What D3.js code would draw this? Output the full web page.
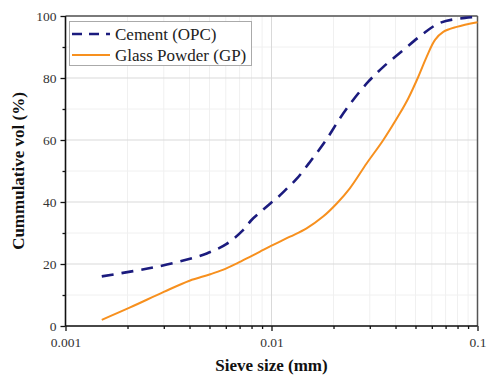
<!DOCTYPE html>
<html><head><meta charset="utf-8">
<script src="https://cdn.jsdelivr.net/npm/d3@7"></script>
<style>body{margin:0;background:#fff}svg{display:block}</style>
</head><body>
<script>
const seriesNames = ["Cement (OPC)", "Glass Powder (GP)"];
const cementSize = [0.0015,0.00213,0.00277,0.00373,0.00485,0.00606,0.0073,0.008,0.009,0.0099,0.0108,0.0119,0.0133,0.0154,0.0182,0.0215,0.0249,0.0295,0.0349,0.0436,0.0536,0.0658,0.0869,0.1];
const cementVol  = [16,17.7,19.1,21.1,23.4,26.5,31,34.2,37.2,39.6,41.7,44.4,47.6,53,59.5,67,72.9,78.8,83.6,89,93.9,97.8,99.4,99.7];
const glassSize = [0.0015,0.00206,0.003,0.004,0.005,0.0058,0.0068,0.0079,0.0088,0.01,0.0123,0.0148,0.0178,0.0208,0.024,0.029,0.0349,0.042,0.0461,0.0516,0.0567,0.0622,0.0682,0.0793,0.1];
const glassVol  = [2,6,11,14.6,16.6,18.1,20.2,22.4,24,25.9,28.8,31.5,35.3,39.6,44.4,52.5,60,68.6,73.4,80.4,86.9,92.3,94.9,96.5,98];
const xTicks = [0.001,0.01,0.1];
const xTickLabels = ["0.001","0.01","0.1"];
const yTicks = [0,20,40,60,80,100];

const W=487,H=376;
const m={l:65.5,r:9.5,t:16,b:50};
const svg=d3.select("body").append("svg").attr("width",W).attr("height",H);
const x=d3.scaleLog().domain([0.001,0.1]).range([m.l,W-m.r]);
const y=d3.scaleLinear().domain([0,100]).range([H-m.b,m.t]);
const font="'Liberation Serif','Times New Roman',serif";

const minorX=[];
[0.001,0.01].forEach(d=>{for(let k=2;k<=9;k++)minorX.push(d*k);});
const minorY=[10,30,50,70,90];

// grid
const g=svg.append("g");
g.selectAll(".mx").data(minorX).join("line").attr("x1",d=>x(d)).attr("x2",d=>x(d)).attr("y1",y(0)).attr("y2",y(100)).attr("stroke","#f0f0f0").attr("stroke-width",1);
g.selectAll(".my").data(minorY).join("line").attr("x1",x(0.001)).attr("x2",x(0.1)).attr("y1",d=>y(d)).attr("y2",d=>y(d)).attr("stroke","#f0f0f0").attr("stroke-width",1);
g.selectAll(".Mx").data(xTicks).join("line").attr("x1",d=>x(d)).attr("x2",d=>x(d)).attr("y1",y(0)).attr("y2",y(100)).attr("stroke","#d9d9d9").attr("stroke-width",1);
g.selectAll(".My").data(yTicks).join("line").attr("x1",x(0.001)).attr("x2",x(0.1)).attr("y1",d=>y(d)).attr("y2",d=>y(d)).attr("stroke","#d9d9d9").attr("stroke-width",1);

// frame top/right
svg.append("line").attr("x1",x(0.001)).attr("x2",x(0.1)).attr("y1",y(100)).attr("y2",y(100)).attr("stroke","#555").attr("stroke-width",1.5);
svg.append("line").attr("x1",x(0.1)).attr("x2",x(0.1)).attr("y1",y(0)).attr("y2",y(100)).attr("stroke","#555").attr("stroke-width",1.5);

// lines
const line=d3.line().x(d=>x(d[0])).y(d=>y(d[1])).curve(d3.curveCatmullRom.alpha(0.5));
const cData=cementSize.map((s,i)=>[s,cementVol[i]]);
const gData=glassSize.map((s,i)=>[s,glassVol[i]]);
svg.append("path").attr("d",line(gData)).attr("fill","none").attr("stroke","#f7901e").attr("stroke-width",2);
svg.append("path").attr("d",line(cData)).attr("fill","none").attr("stroke","#1b1b7e").attr("stroke-width",2.6).attr("stroke-dasharray","12,8");

// axes
const xAxis=d3.axisBottom(x).tickValues(xTicks).tickFormat((d,i)=>xTickLabels[i]).tickSize(5).tickPadding(6);
const xa=svg.append("g").attr("transform",`translate(0,${y(0)})`).call(xAxis);
const xm=svg.append("g").attr("transform",`translate(0,${y(0)})`).call(d3.axisBottom(x).tickValues(minorX).tickFormat("").tickSize(3));
xm.select(".domain").remove();
const yAxis=d3.axisLeft(y).tickValues(yTicks).tickSize(5).tickPadding(4);
const ya=svg.append("g").attr("transform",`translate(${x(0.001)},0)`).call(yAxis);
const ym=svg.append("g").attr("transform",`translate(${x(0.001)},0)`).call(d3.axisLeft(y).tickValues(minorY).tickFormat("").tickSize(3));
ym.select(".domain").remove();
[xa,ya,xm,ym].forEach(a=>{a.selectAll("line").attr("stroke","#111").attr("stroke-width",1.3);a.selectAll(".domain").attr("stroke","#111").attr("stroke-width",1.6);});
[xa,ya].forEach(a=>a.selectAll("text").attr("font-family",font).attr("font-size",13.5).attr("fill","#333"));
xa.selectAll(".domain").attr("d",`M${x(0.001)},0H${x(0.1)}`);
ya.selectAll(".domain").attr("d",`M0,${y(0)}V${y(100)}`);

// axis titles
svg.append("text").attr("x",(x(0.001)+x(0.1))/2).attr("y",371).attr("text-anchor","middle").attr("font-family",font).attr("font-weight","bold").attr("font-size",17).attr("fill","#111").text("Sieve size (mm)");
svg.append("text").attr("transform",`translate(24,${(y(0)+y(100))/2}) rotate(-90)`).attr("text-anchor","middle").attr("font-family",font).attr("font-weight","bold").attr("font-size",17).attr("fill","#111").text("Cummulative vol (%)");

// legend
const lg=svg.append("g");
lg.append("rect").attr("x",69.5).attr("y",21.5).attr("width",182).attr("height",44).attr("fill","#fff").attr("stroke","#aaa").attr("stroke-width",1);
const legendItems=[{name:seriesNames[0],color:"#1b1b7e",dash:"10,7",w:2.6},{name:seriesNames[1],color:"#f7901e",dash:null,w:2}];
legendItems.forEach((it,i)=>{
  const yy=34+i*21;
  lg.append("line").attr("x1",72).attr("x2",110).attr("y1",yy).attr("y2",yy).attr("stroke",it.color).attr("stroke-width",it.w).attr("stroke-dasharray",it.dash);
  lg.append("text").attr("x",115).attr("y",yy+5.5).attr("font-family",font).attr("font-size",17).attr("fill","#222").text(it.name);
});
</script>
</body></html>
